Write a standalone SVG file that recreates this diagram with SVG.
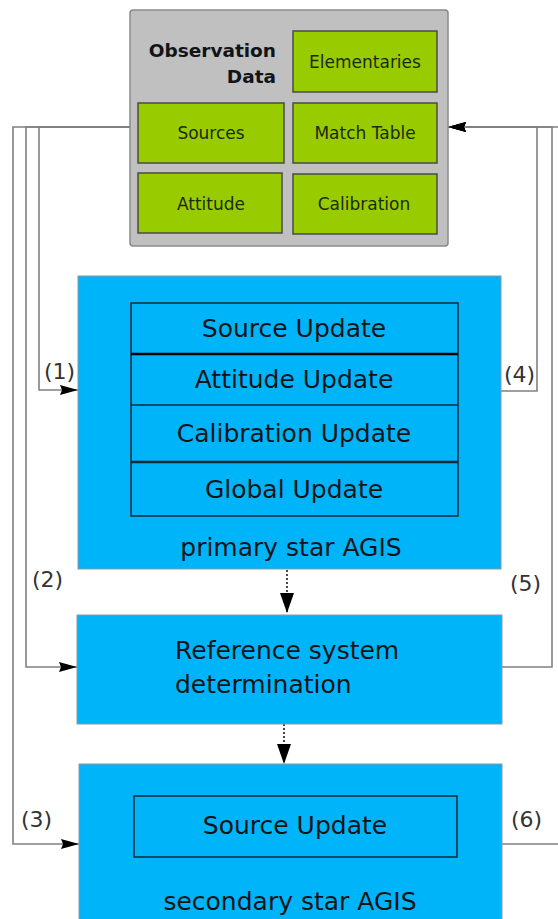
<svg xmlns="http://www.w3.org/2000/svg" width="558" height="919" viewBox="0 0 558 919">
<style>
.conn{fill:none;stroke:#808080;stroke-width:1.6}
.dash{fill:none;stroke:#111;stroke-width:1.5;stroke-dasharray:2 2}
.gray{fill:#c0c0c0;stroke:#8a8a8a;stroke-width:1.5}
.green{fill:#99cc00;stroke:#4a4a4a;stroke-width:1.5}
.blue{fill:#00b4fa;stroke:#8a9aa5;stroke-width:1}
.inner{fill:none;stroke:#0a2a3a;stroke-width:1.5}
.t{font-family:"DejaVu Sans",sans-serif;fill:#101418}
.big{font-size:25px}
.small{font-size:17px;fill:#1b2a05}
.lbl{font-family:"DejaVu Sans",sans-serif;font-size:22px;fill:#333}
</style>
<defs>
<marker id="ah" viewBox="0 0 18 12" refX="18" refY="6" markerWidth="18" markerHeight="12" markerUnits="userSpaceOnUse" orient="auto">
<path d="M0,1 L18,6 L0,11 L2,6 Z" fill="#000"/>
</marker>
<marker id="ahd" viewBox="0 0 14 20" refX="7" refY="20" markerWidth="14" markerHeight="20" markerUnits="userSpaceOnUse" orient="0">
<path d="M0,0 L14,0 L7,20 Z" fill="#000"/>
</marker>
</defs>

<g id="connectors">
<path class="conn" d="M130,127 H39 V390 H78" marker-end="url(#ah)"/>
<path class="conn" d="M130,127 H26 V667 H77" marker-end="url(#ah)"/>
<path class="conn" d="M130,127 H13 V844 H79" marker-end="url(#ah)"/>
<path class="conn" d="M501,391 H537 V127 H448" marker-end="url(#ah)"/>
<path class="conn" d="M502,667 H552 V127 H448" marker-end="url(#ah)"/>
<path class="conn" d="M502,844 H562 V127 H448" marker-end="url(#ah)"/>
<path class="dash" d="M287,570 V613" marker-end="url(#ahd)"/>
<path class="dash" d="M284,724 V764" marker-end="url(#ahd)"/>
<text class="lbl" x="44" y="379">(1)</text>
<text class="lbl" x="32" y="587">(2)</text>
<text class="lbl" x="21" y="827">(3)</text>
<text class="lbl" x="504" y="382">(4)</text>
<text class="lbl" x="510" y="591">(5)</text>
<text class="lbl" x="511" y="827">(6)</text>
</g>

<g id="observation-data">
<rect class="gray" x="130" y="10" width="318" height="236" rx="3"/>
<text class="t" x="276" y="57" text-anchor="end" font-weight="bold" font-size="18.5" fill="#222">Observation</text>
<text class="t" x="276" y="83" text-anchor="end" font-weight="bold" font-size="18.5" fill="#222">Data</text>
</g>
<g id="elementaries">
<rect class="green" x="293" y="31" width="144" height="61"/>
<text class="t small" x="365" y="68" text-anchor="middle">Elementaries</text>
</g>
<g id="sources">
<rect class="green" x="138" y="103" width="146" height="60"/>
<text class="t small" x="211" y="139" text-anchor="middle">Sources</text>
</g>
<g id="match-table">
<rect class="green" x="293" y="103" width="144" height="60"/>
<text class="t small" x="365" y="139" text-anchor="middle">Match Table</text>
</g>
<g id="attitude">
<rect class="green" x="138" y="173" width="144" height="60"/>
<text class="t small" x="211" y="210" text-anchor="middle">Attitude</text>
</g>
<g id="calibration">
<rect class="green" x="293" y="174" width="144" height="60"/>
<text class="t small" x="364" y="210" text-anchor="middle">Calibration</text>
</g>

<g id="primary-agis">
<rect class="blue" x="78" y="276" width="423" height="293"/>
<rect class="inner" x="131" y="303" width="327" height="213"/>
<line x1="131" y1="354" x2="458" y2="354" stroke="#000" stroke-width="2.5"/>
<line x1="131" y1="405" x2="458" y2="405" stroke="#0a2a3a" stroke-width="1.5"/>
<line x1="131" y1="462" x2="458" y2="462" stroke="#0a2a3a" stroke-width="2.5"/>
<text class="t big" x="294" y="337" text-anchor="middle">Source Update</text>
<text class="t big" x="294" y="388" text-anchor="middle">Attitude Update</text>
<text class="t big" x="294" y="442" text-anchor="middle">Calibration Update</text>
<text class="t big" x="294" y="498" text-anchor="middle">Global Update</text>
<text class="t big" x="291" y="556" text-anchor="middle">primary star AGIS</text>
</g>

<g id="reference-system">
<rect class="blue" x="77" y="615" width="425" height="109"/>
<text class="t big" x="175" y="659">Reference system</text>
<text class="t big" x="175" y="693">determination</text>
</g>

<g id="secondary-agis">
<rect class="blue" x="79" y="764" width="423" height="165"/>
<rect class="inner" x="134" y="796" width="323" height="61"/>
<text class="t big" x="295" y="834" text-anchor="middle">Source Update</text>
<text class="t big" x="290" y="910" text-anchor="middle">secondary star AGIS</text>
</g>
</svg>
